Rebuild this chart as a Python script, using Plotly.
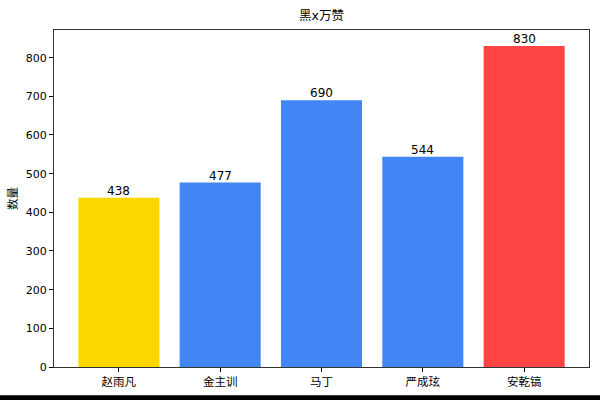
import plotly.graph_objects as go

categories = ["赵雨凡", "金主训", "马丁", "严成玹", "安乾镐"]
values = [438, 477, 690, 544, 830]
colors = ["#FFD700", "#4285F4", "#4285F4", "#4285F4", "#FF4444"]
y_ticks = [0, 100, 200, 300, 400, 500, 600, 700, 800]
title_text = "黑x万赞"
y_title = "数量"

FONT = "DejaVu Sans, Noto Sans CJK SC, sans-serif"

fig = go.Figure(
    go.Bar(
        x=list(range(len(categories))),
        y=values,
        width=0.8,
        marker=dict(color=colors, line=dict(width=0)),
    )
)

for i, v in enumerate(values):
    fig.add_annotation(
        x=i,
        y=v,
        text=str(v),
        showarrow=False,
        yanchor="bottom",
        xanchor="center",
        yshift=-2,
        font=dict(family=FONT, size=12, color="black"),
    )

fig.update_layout(
    width=600,
    height=400,
    margin=dict(l=54, r=11, t=30, b=33, autoexpand=False),
    paper_bgcolor="white",
    plot_bgcolor="white",
    showlegend=False,
    font=dict(family=FONT, size=11, color="black"),
    title=dict(
        text=title_text,
        x=(54 + 589) / 2 / 600,
        xanchor="center",
        y=1 - 16 / 400,
        yanchor="middle",
        font=dict(family=FONT, size=12.5, color="black"),
    ),
    bargap=0.2,
)

fig.update_xaxes(
    range=[-0.64, 4.64],
    tickmode="array",
    tickvals=list(range(len(categories))),
    ticktext=categories,
    ticks="outside",
    ticklen=4,
    tickcolor="black",
    showline=True,
    linecolor="#333333",
    linewidth=1,
    mirror=True,
    showgrid=False,
    zeroline=False,
    automargin=False,
    tickfont=dict(family=FONT, size=11.5, color="black"),
)

fig.update_yaxes(
    range=[0, 871.5],
    tickmode="array",
    tickvals=y_ticks,
    ticktext=[str(t) for t in y_ticks],
    ticks="outside",
    ticklen=4,
    tickcolor="black",
    showline=True,
    linecolor="#333333",
    linewidth=1,
    mirror=True,
    showgrid=False,
    zeroline=False,
    automargin=False,
    tickfont=dict(family=FONT, size=11, color="black"),
    title=dict(text=y_title, font=dict(family=FONT, size=11.5, color="black"), standoff=5),
)

# dark band along the bottom edge of the reference image
fig.add_shape(
    type="rect",
    xref="paper",
    yref="paper",
    x0=-0.2,
    x1=1.1,
    y0=-(400 - 366.7) / 336.7 - 0.01,
    y1=-(395 - 366.7) / 336.7,
    fillcolor="black",
    line=dict(width=0),
    layer="above",
)

fig.write_html(
    "out.html",
    config={"displayModeBar": False},
    post_script="document.body.style.margin='0';document.body.style.overflow='hidden';",
)
